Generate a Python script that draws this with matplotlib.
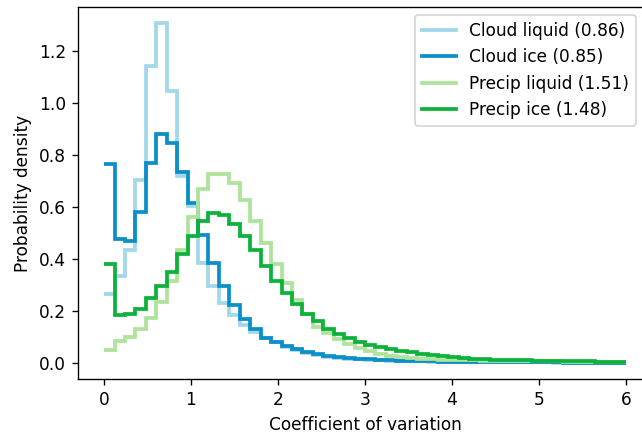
import numpy as np
import matplotlib
matplotlib.use('Agg')
import matplotlib.pyplot as plt

# 50 bins between 0 and 6
bin_edges = np.linspace(0, 6, 51)

cloud_liquid = [0.265, 0.335, 0.435, 0.704, 1.142, 1.309, 1.047, 0.720, 0.605, 0.383,
                0.297, 0.232, 0.185, 0.146, 0.120, 0.096, 0.080, 0.062, 0.049, 0.039,
                0.031, 0.025, 0.021, 0.017, 0.014, 0.012, 0.010, 0.009, 0.008, 0.007,
                0.006, 0.005, 0.0045, 0.004, 0.0038, 0.0035, 0.0032, 0.003, 0.0028, 0.0026,
                0.0024, 0.0022, 0.002, 0.0019, 0.0018, 0.0016, 0.0015, 0.0014, 0.0013, 0.0012]
cloud_ice = [0.765, 0.475, 0.470, 0.582, 0.768, 0.882, 0.845, 0.736, 0.614, 0.492,
             0.385, 0.296, 0.224, 0.168, 0.130, 0.097, 0.080, 0.065, 0.052, 0.042,
             0.034, 0.028, 0.023, 0.019, 0.016, 0.014, 0.012, 0.010, 0.009, 0.008,
             0.007, 0.006, 0.0055, 0.005, 0.0045, 0.004, 0.0036, 0.0033, 0.003, 0.0028,
             0.0026, 0.0024, 0.0022, 0.002, 0.0019, 0.0018, 0.0017, 0.0016, 0.0015, 0.0014]
precip_liquid = [0.050, 0.086, 0.099, 0.131, 0.174, 0.236, 0.317, 0.435, 0.563, 0.668,
                 0.726, 0.727, 0.691, 0.625, 0.546, 0.461, 0.381, 0.307, 0.242, 0.187,
                 0.140, 0.115, 0.093, 0.075, 0.058, 0.045, 0.036, 0.028, 0.023, 0.020,
                 0.017, 0.015, 0.013, 0.012, 0.011, 0.010, 0.009, 0.0085, 0.008, 0.0075,
                 0.007, 0.0066, 0.0062, 0.0058, 0.0054, 0.005, 0.0047, 0.0044, 0.0041, 0.0038]
precip_ice = [0.381, 0.185, 0.187, 0.208, 0.249, 0.296, 0.351, 0.420, 0.487, 0.546,
              0.576, 0.569, 0.535, 0.488, 0.433, 0.373, 0.317, 0.268, 0.227, 0.190,
              0.160, 0.130, 0.110, 0.095, 0.082, 0.071, 0.062, 0.053, 0.047, 0.041,
              0.036, 0.031, 0.027, 0.023, 0.019, 0.017, 0.015, 0.013, 0.012, 0.011,
              0.010, 0.009, 0.008, 0.0075, 0.007, 0.0065, 0.006, 0.0055, 0.005, 0.0048]

labels = ['Cloud liquid (0.86)', 'Cloud ice (0.85)', 'Precip liquid (1.51)', 'Precip ice (1.48)']
colors = ['#a1d8ea', '#0c8ec8', '#ade39a', '#0db23a']

dpi = 122.6
fig = plt.figure(figsize=(642 / dpi, 433 / dpi), dpi=dpi)
ax = fig.add_axes([78 / 642, 1 - 379 / 433, (652 - 78) / 642, (379 - 7) / 433])

for vals, lab, col in zip([cloud_liquid, cloud_ice, precip_liquid, precip_ice], labels, colors):
    ax.stairs(vals, bin_edges, baseline=None, color=col, lw=2.2, label=lab)

ax.set_xlim(-0.3, 6.3)
ax.set_ylim(-0.0615, 1.369)
ax.set_xticks([0, 1, 2, 3, 4, 5, 6])
ax.set_yticks([0.0, 0.2, 0.4, 0.6, 0.8, 1.0, 1.2])
ax.set_yticklabels(['0.0', '0.2', '0.4', '0.6', '0.8', '1.0', '1.2'])
ax.set_xlabel('Coefficient of variation')
ax.set_ylabel('Probability density')

ax.legend(loc='upper right', bbox_to_anchor=(636 / 642, 1 - 15 / 433),
          bbox_transform=fig.transFigure, borderaxespad=0)

fig.savefig('out.png', dpi=dpi)
